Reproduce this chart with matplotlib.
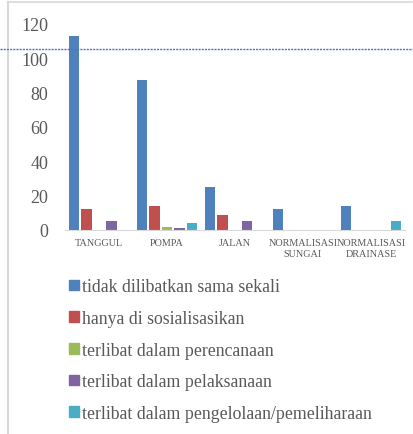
import numpy as np
import matplotlib
matplotlib.use('Agg')
import matplotlib.pyplot as plt
from matplotlib.lines import Line2D
from matplotlib.patches import Patch

categories = ['TANGGUL', 'POMPA', 'JALAN', 'NORMALISASI\nSUNGAI', 'NORMALISASI\nDRAINASE']
series_names = ['tidak dilibatkan sama sekali',
                'hanya di sosialisasikan',
                'terlibat dalam perencanaan',
                'terlibat dalam pelaksanaan',
                'terlibat dalam pengelolaan/pemeliharaan']
tidak = [113, 87, 25, 12, 14]
sosialisasi = [12, 14, 9, 0, 0]
perencanaan = [0, 2, 0, 0, 0]
pelaksanaan = [5, 1, 5, 0, 0]
pengelolaan = [0, 4, 0, 0, 5]
colors = ['#4f81bd', '#c0504d', '#9bbb59', '#8064a2', '#4bacc6']
yticks = [0, 20, 40, 60, 80, 100, 120]

plt.rcParams['font.family'] = ['Liberation Serif', 'DejaVu Serif']
txt = '#595959'

fig = plt.figure(figsize=(4.14, 4.35), dpi=100)
ax = fig.add_axes([0.157, 0.469, 0.821, 0.474])

x = np.arange(len(categories))
slot = 0.183
width = 0.15
for i, vals in enumerate([tidak, sosialisasi, perencanaan, pelaksanaan, pengelolaan]):
    ax.bar(x + (i - 2) * slot, vals, width, color=colors[i], label=series_names[i])

ax.set_xlim(-0.5, len(categories) - 0.5)
ax.set_ylim(0, 120)
ax.set_yticks(yticks)
ax.set_xticks(x)
ax.set_xticklabels(categories, fontsize=7.3, color=txt, linespacing=1.3)
ax.tick_params(axis='y', labelsize=13, colors=txt, length=0, pad=12)
ax.tick_params(axis='x', length=0, pad=6)
for s in ['top', 'right', 'left']:
    ax.spines[s].set_visible(False)
ax.spines['bottom'].set_color('#d9d9d9')

handles = [Patch(color=c) for c in colors]
fig.legend(handles, series_names, loc='upper left', bbox_to_anchor=(0.15, 0.374),
           frameon=False, fontsize=12.8, labelcolor=txt, handlelength=0.55, handleheight=0.55,
           handletextpad=0.15, labelspacing=0.82, borderaxespad=0)

# outer chart border and the stray guide line
fig.add_artist(Line2D([0.02, 0.02], [0, 0.992], transform=fig.transFigure, color='#d9d9d9', lw=1.5))
fig.add_artist(Line2D([0.02, 0.995], [0.992, 0.992], transform=fig.transFigure, color='#d9d9d9', lw=1.2))
fig.add_artist(Line2D([0, 1], [0.886, 0.886], transform=fig.transFigure, color='#5b6ac9', lw=1.0, ls=(0, (1.5, 0.8))))

fig.savefig('out.png', dpi=100)
